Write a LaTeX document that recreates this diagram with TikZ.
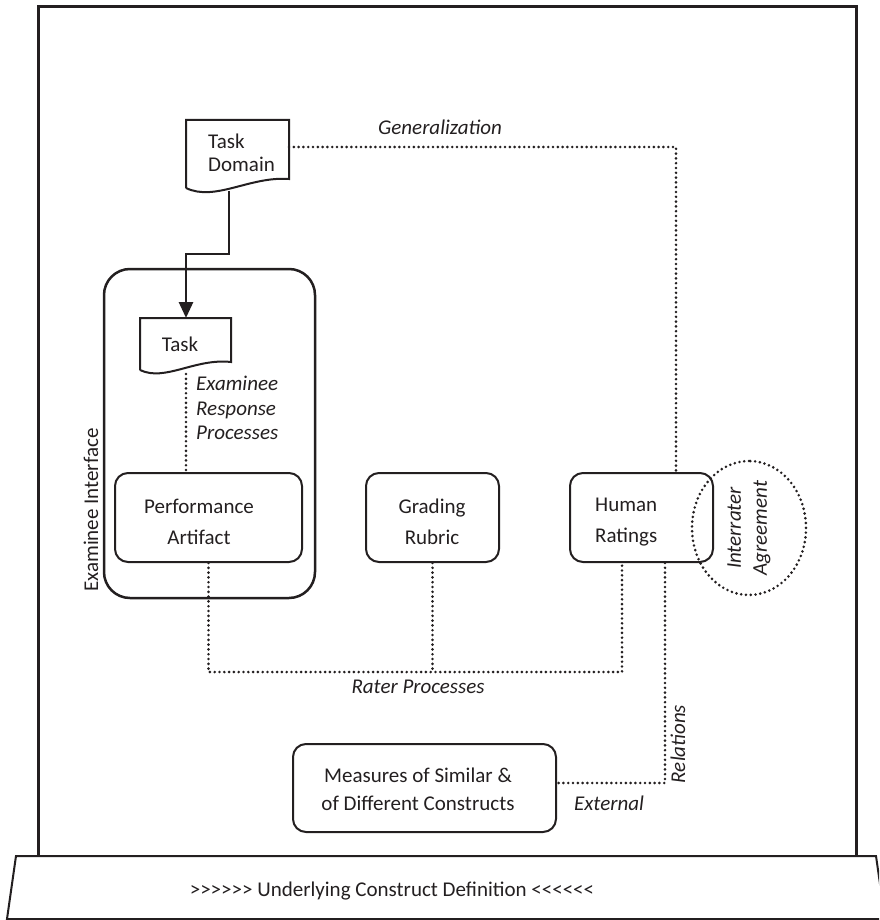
\documentclass[tikz,border=0pt]{standalone}
\usepackage{fontspec}
\setmainfont{Carlito}
\usetikzlibrary{arrows.meta,shapes.geometric}
\definecolor{ink}{HTML}{231F20}
% six angle brackets, kerned apart so no guillemet mapping applies
\newcommand\rightsix{>\kern0pt>\kern0pt>\kern0pt>\kern0pt>\kern0pt>}
\newcommand\leftsix{<\kern0pt<\kern0pt<\kern0pt<\kern0pt<\kern0pt<}

\begin{document}
\begin{tikzpicture}[x=1pt,y=-1pt,
  every node/.style={font=\fontsize{21}{25}\selectfont, inner sep=0pt, text=ink},
  frame/.style={draw=ink, line width=3pt, line join=miter},
  box/.style={draw=ink, line width=2pt, rounded corners=13pt},
  bigbox/.style={draw=ink, line width=2.5pt, rounded corners=26pt},
  docshape/.style={draw=ink, line width=2pt, line join=miter},
  dotline/.style={draw=ink, line width=2.9pt, line cap=round, dash pattern=on 0pt off 4.8pt},
  flow/.style={draw=ink, line width=2.8pt, -{Triangle[length=16pt,width=14pt]}},
  lbl/.style={font=\fontsize{21}{25}\selectfont\itshape},
]
\clip (0,0) rectangle (879,920);

% outer frame and the base plate
\draw[frame] (38,856) -- (38,7) -- (856,7) -- (856,856);
\draw[docshape] (16,856) -- (876,856) -- (885,919) -- (7,919) -- cycle;
\node (base) at (392,891) {\rightsix{} Underlying Construct Definition \leftsix};

% task domain (document shape)
\draw[docshape] (186,188) -- (186,120) -- (289,120) -- (289,179)
  .. controls (250,176) and (215,202) .. (186,188);
\node[anchor=west, align=left, font=\fontsize{21}{23}\selectfont] (tasktxt0) at (208,153) {Task\\Domain};
\coordinate (td-out) at (229,191);
\coordinate (td-east) at (289,147);

% examinee interface
\node[bigbox, minimum width=211, minimum height=329] (iface) at (209.5,433.5) {};
\node[rotate=90] (ifacetxt) at (91,510) {Examinee Interface};

% task (document shape)
\draw[docshape] (140,370) -- (140,318) -- (231,318) -- (231,362)
  .. controls (195,358) and (165,382) .. (140,370);
\node (tasktxt) at (180,344) {Task};
\coordinate (task-in) at (186,318);
\coordinate (task-out) at (186,374);

\node[lbl, anchor=west, align=left, font=\fontsize{21}{24.5}\selectfont\itshape] (erp) at (196,408)
  {Examinee\\Response\\Processes};

% boxes
\node[box, minimum width=187, minimum height=89] (perf) at (208.5,517.5) {};
\node[align=center] (perftxt) at (199,522) {Performance\\[6pt]Artifact};

\node[box, minimum width=133, minimum height=89] (rubric) at (432.5,517.5) {};
\node[align=center] (rubrictxt) at (432,522) {Grading\\[6pt]Rubric};

\node[box, minimum width=143, minimum height=89] (human) at (641.5,517.5) {};
\node[anchor=west, align=left] (humantxt) at (595,522) {Human\\[6pt]Ratings};

\node[draw=ink, ellipse, rotate=90, minimum width=134, minimum height=114,
      line width=2.9pt, line cap=round, dash pattern=on 0pt off 4.8pt,
      align=center, font=\fontsize{21}{26}\selectfont\itshape] (agree) at (749,528)
  {Interrater\\Agreement};

\node[box, minimum width=263, minimum height=88] (measures) at (424.5,788) {};
\node[align=center] (measurestxt) at (418,789) {Measures of Similar \&\\[3pt]of Different Constructs};

% connectors
\draw[flow] (td-out) -- (td-out |- 0,254) -| (task-in);
\draw[dotline] (td-east) -| ([xshift=34.5pt]human.north);
\draw[dotline] (task-out) -- (task-out |- perf.north);
\coordinate (rp) at (432.5,672);
\draw[dotline] (perf.south) |- (rp) -| ([xshift=-19.5pt]human.south);
\draw[dotline] (rubric.south) -- (rp);
\draw[dotline] ([xshift=23.5pt]human.south) |- ([yshift=5pt]measures.east);

% labels
\node[lbl] (gen) at (440,127) {Generalization};
\node[lbl] (rater) at (418,687) {Rater Processes};
\node[lbl] (ext) at (609,803) {External};
\node[lbl, rotate=90] (rel) at (678,744) {Relations};
\end{tikzpicture}
\end{document}
